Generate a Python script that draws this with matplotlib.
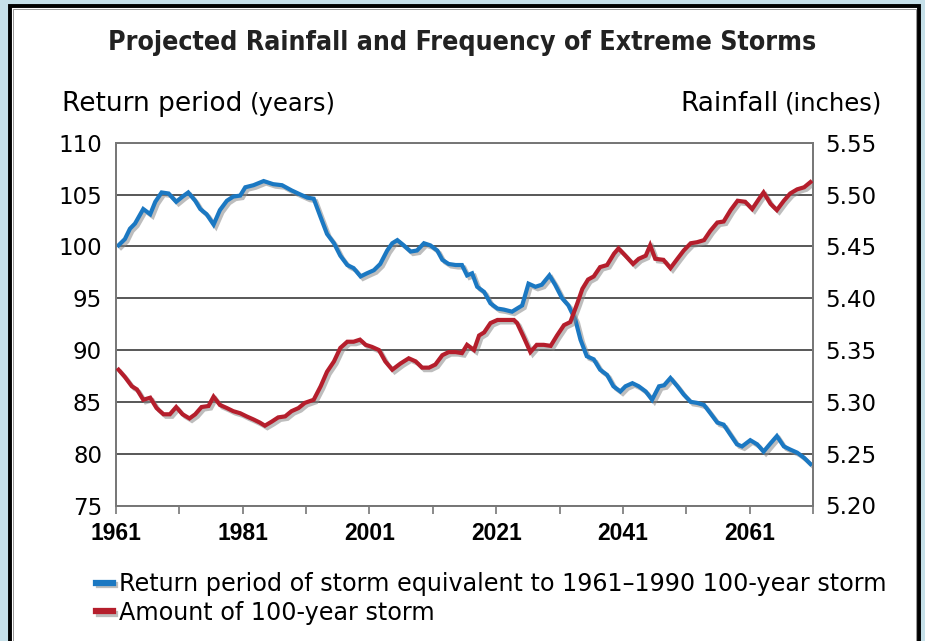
import matplotlib
matplotlib.use("Agg")
import matplotlib.pyplot as plt
import matplotlib.patheffects as pe
from matplotlib.patches import Rectangle
from matplotlib.lines import Line2D

# return period of storm equivalent to 1961-1990 100-year storm (left axis, years)
blue_years = [1961.4, 1962.4, 1963.2, 1964.0, 1965.3, 1966.4, 1967.2, 1968.2, 1969.3, 1970.5,
              1971.5, 1972.4, 1973.5, 1974.3, 1975.3, 1976.4, 1977.4, 1978.5, 1979.5, 1980.6,
              1981.4, 1982.7, 1984.3, 1985.8, 1987.2, 1988.7, 1990.1, 1991.2, 1992.2, 1993.3,
              1994.3, 1995.4, 1996.4, 1997.5, 1998.5, 1999.6, 2000.6, 2001.7, 2002.7, 2003.8,
              2004.6, 2005.4, 2006.4, 2007.5, 2008.5, 2009.6, 2010.6, 2011.7, 2012.5, 2013.5,
              2014.6, 2015.6, 2016.4, 2017.2, 2018.0, 2019.1, 2020.1, 2021.2, 2022.2, 2023.5,
              2025.1, 2026.1, 2027.2, 2028.2, 2029.4, 2030.3, 2031.4, 2032.4, 2033.5, 2034.3,
              2035.3, 2036.4, 2037.4, 2038.5, 2039.5, 2040.6, 2041.4, 2042.5, 2043.5, 2044.6,
              2045.6, 2046.7, 2047.5, 2048.5, 2049.6, 2050.6, 2051.7, 2052.7, 2053.8, 2054.8,
              2055.9, 2056.9, 2058.0, 2059.0, 2059.8, 2061.1, 2062.2, 2063.2, 2064.3, 2065.3,
              2066.4, 2067.4, 2068.5, 2069.6, 2070.6]
return_period = [100.1, 100.7, 101.7, 102.2, 103.6, 103.1, 104.3, 105.2, 105.1, 104.3,
                 104.8, 105.2, 104.4, 103.6, 103.1, 102.1, 103.5, 104.4, 104.8, 104.9,
                 105.7, 105.9, 106.3, 106.0, 105.9, 105.4, 105.0, 104.7, 104.6, 102.8,
                 101.2, 100.3, 99.1, 98.2, 97.9, 97.1, 97.4, 97.7, 98.3, 99.6,
                 100.3, 100.6, 100.1, 99.5, 99.6, 100.3, 100.1, 99.6, 98.7, 98.3,
                 98.2, 98.2, 97.2, 97.4, 96.1, 95.6, 94.5, 94.0, 93.9, 93.7,
                 94.3, 96.4, 96.1, 96.3, 97.2, 96.3, 95.0, 94.3, 92.9, 91.0,
                 89.4, 89.1, 88.1, 87.6, 86.5, 86.0, 86.5, 86.8, 86.5, 86.0,
                 85.2, 86.5, 86.6, 87.3, 86.5, 85.7, 85.0, 84.9, 84.7, 83.9,
                 83.0, 82.8, 81.8, 80.9, 80.7, 81.3, 80.9, 80.2, 81.0, 81.7,
                 80.7, 80.4, 80.1, 79.6, 79.0]

# amount of 100-year storm (right axis, inches)
red_years = [1961.4, 1962.4, 1963.5, 1964.3, 1965.3, 1966.4, 1967.4, 1968.5, 1969.5, 1970.5,
             1971.5, 1972.6, 1973.5, 1974.5, 1975.6, 1976.4, 1977.4, 1978.5, 1979.5, 1980.6,
             1981.6, 1982.7, 1983.7, 1984.5, 1985.6, 1986.6, 1987.7, 1988.7, 1989.8, 1990.8,
             1992.2, 1993.3, 1994.3, 1995.4, 1996.4, 1997.5, 1998.5, 1999.5, 2000.4, 2001.4,
             2002.5, 2003.5, 2004.6, 2005.9, 2007.2, 2008.3, 2009.3, 2010.4, 2011.4, 2012.5,
             2013.5, 2014.6, 2015.6, 2016.4, 2017.5, 2018.3, 2019.1, 2020.1, 2021.2, 2022.5,
             2023.8, 2024.3, 2025.3, 2026.4, 2027.4, 2028.5, 2029.6, 2030.6, 2031.7, 2032.7,
             2033.8, 2034.6, 2035.5, 2036.4, 2037.4, 2038.5, 2039.6, 2040.3, 2041.4, 2042.6,
             2043.5, 2044.6, 2045.3, 2046.1, 2047.4, 2048.5, 2049.6, 2050.6, 2051.7, 2052.7,
             2053.8, 2054.8, 2055.9, 2056.9, 2058.0, 2059.1, 2060.3, 2061.4, 2062.5, 2063.2,
             2064.3, 2065.3, 2066.4, 2067.4, 2068.5, 2069.6, 2070.6]
rainfall = [5.331, 5.324, 5.315, 5.312, 5.302, 5.304, 5.294, 5.288, 5.288, 5.295,
            5.288, 5.284, 5.288, 5.295, 5.296, 5.305, 5.297, 5.294, 5.291, 5.289,
            5.286, 5.283, 5.280, 5.277, 5.281, 5.285, 5.286, 5.291, 5.294, 5.299,
            5.302, 5.315, 5.329, 5.339, 5.352, 5.358, 5.358, 5.360, 5.355, 5.353,
            5.350, 5.339, 5.331, 5.337, 5.342, 5.339, 5.333, 5.333, 5.336, 5.345,
            5.348, 5.348, 5.347, 5.355, 5.350, 5.364, 5.367, 5.376, 5.379, 5.379,
            5.379, 5.376, 5.363, 5.348, 5.355, 5.355, 5.354, 5.364, 5.374, 5.377,
            5.395, 5.409, 5.418, 5.421, 5.430, 5.432, 5.443, 5.448, 5.441, 5.433,
            5.438, 5.441, 5.451, 5.438, 5.437, 5.429, 5.438, 5.446, 5.453, 5.454,
            5.456, 5.465, 5.473, 5.474, 5.485, 5.494, 5.493, 5.486, 5.496, 5.502,
            5.491, 5.485, 5.494, 5.501, 5.505, 5.507, 5.512]

left_ticks = [75, 80, 85, 90, 95, 100, 105, 110]
right_ticks = [5.20, 5.25, 5.30, 5.35, 5.40, 5.45, 5.50, 5.55]
year_labels = [1961, 1981, 2001, 2021, 2041, 2061]
year_minor = [1971, 1991, 2011, 2031, 2051, 2071]

BLUE = "#1b78c2"
RED = "#b51e2c"
BG = "#c6e0e9"

fig = plt.figure(figsize=(9.25, 6.41), dpi=100)
fig.patch.set_facecolor(BG)

# white panel with black frame, behind everything
fig.patches.append(Rectangle((9.5 / 925, -0.05), 909 / 925, 1.05 - 6 / 641,
                             transform=fig.transFigure, facecolor="white",
                             edgecolor="black", linewidth=2.8, zorder=-10))
fig.patches.append(Rectangle((12.5 / 925, -0.05), 903 / 925, 1.05 - 9 / 641,
                             transform=fig.transFigure, facecolor="none",
                             edgecolor="#888888", linewidth=0.6, zorder=-9))

ax = fig.add_axes([116 / 925, 1 - 505.5 / 641, 697 / 925, 362.8 / 641], zorder=1)
ax.set_facecolor("white")
ax2 = ax.twinx()

shadow = [pe.SimpleLineShadow(offset=(1.8, -1.8), shadow_color="#888888", alpha=0.55),
          pe.Normal()]
l1, = ax.plot(blue_years, return_period, color=BLUE, lw=3.0, solid_joinstyle="miter",
              path_effects=shadow, zorder=3)
l2, = ax2.plot(red_years, rainfall, color=RED, lw=3.0, solid_joinstyle="miter",
               path_effects=shadow, zorder=3)

ax.set_xlim(1961, 2071)
ax.set_ylim(75, 110)
ax2.set_ylim(5.20, 5.55)
ax.set_yticks(left_ticks)
ax2.set_yticks(right_ticks)
ax2.set_yticklabels(["%.2f" % v for v in right_ticks])
ax.grid(axis="y", color="#2a2a2a", lw=1.1)
ax.set_axisbelow(True)

ax.set_xticks(year_labels)
ax.set_xticks(year_minor, minor=True)
ax.tick_params(axis="x", which="both", direction="out", length=6, width=1.2,
               color="#777777", pad=6)
ax.tick_params(axis="y", length=0, pad=10, labelsize=16.5)
ax2.tick_params(axis="y", length=0, pad=8.5, labelsize=16.5)
for lab in ax.get_xticklabels():
    lab.set_fontfamily("Liberation Sans")
    lab.set_fontweight("bold")
    lab.set_fontsize(16.5)

for a in (ax, ax2):
    for sp in a.spines.values():
        sp.set_color("#777777")
        sp.set_linewidth(1.3)

title = fig.text(0.5, 1 - 50 / 641, "Projected Rainfall and Frequency of Extreme Storms",
                 ha="center", va="baseline", fontsize=23, fontweight="bold",
                 family="DejaVu Sans", fontstretch="condensed", color="#222222")
# squeeze the title to the width it has in the source
fig.canvas.draw()
w = title.get_window_extent().width
title.set_fontsize(23 * 710 / w)

fig.text(62 / 925, 1 - 111 / 641, "Return period", ha="left", va="baseline", fontsize=19)
fig.text(250 / 925, 1 - 111 / 641, "(years)", ha="left", va="baseline", fontsize=17.5)
fig.text(882 / 925, 1 - 111 / 641, "(inches)", ha="right", va="baseline", fontsize=17.5)
fig.text(779 / 925, 1 - 111 / 641, "Rainfall", ha="right", va="baseline", fontsize=19)

handles = [Line2D([], [], color=BLUE, lw=4.5, path_effects=shadow),
           Line2D([], [], color=RED, lw=4.5, path_effects=shadow)]
fig.legend(handles,
           ["Return period of storm equivalent to 1961\u20131990 100-year storm",
            "Amount of 100-year storm"],
           loc="upper left", bbox_to_anchor=(96 / 925, 1 - 572 / 641),
           frameon=False, fontsize=17.2, handlelength=0.7, handletextpad=0.25,
           labelspacing=0.2, borderpad=0, borderaxespad=0)

fig.savefig("out.png", dpi=100, facecolor=BG)
